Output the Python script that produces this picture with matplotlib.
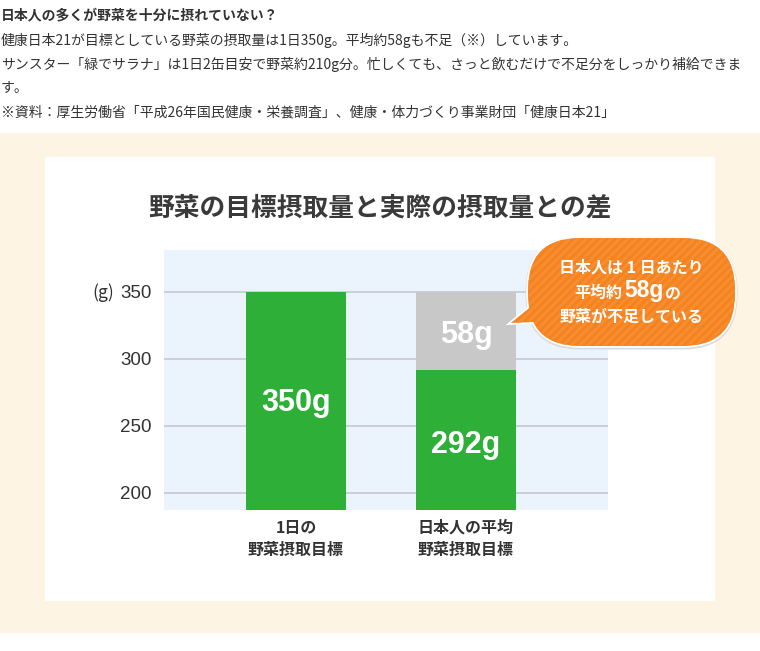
import matplotlib
matplotlib.use("Agg")
import matplotlib.pyplot as plt
from matplotlib.patches import Rectangle, FancyBboxPatch, Polygon

plt.rcParams['font.family'] = ['Noto Sans CJK JP', 'DejaVu Sans']

# ---- data ----
categories = ["1日の\n野菜摂取目標", "日本人の平均\n野菜摂取目標"]
green_values = [350, 292]
gray_values = [0, 58]
green_labels = ["350g", "292g"]
gray_labels = ["", "58g"]
y_ticks = [200, 250, 300, 350]
title = "野菜の目標摂取量と実際の摂取量との差"
header_lines = [
    "日本人の多くが野菜を十分に摂れていない？",
    "健康日本21が目標としている野菜の摂取量は1日350g。平均約58gも不足（※）しています。",
    "サンスター「緑でサラナ」は1日2缶目安で野菜約210g分。忙しくても、さっと飲むだけで不足分をしっかり補給できま",
    "す。",
    "※資料：厚生労働省「平成26年国民健康・栄養調査」、健康・体力づくり事業財団「健康日本21」",
]

W, H = 760, 651
fig = plt.figure(figsize=(W / 100, H / 100), dpi=100)
fig.patch.set_facecolor('white')

# background layer in pixel coords
bg = fig.add_axes([0, 0, 1, 1], zorder=0)
bg.set_xlim(0, W); bg.set_ylim(H, 0); bg.axis('off')
bg.add_patch(Rectangle((0, 133), 760, 500, facecolor='#FDF4E3', edgecolor='none'))
bg.add_patch(Rectangle((45, 157), 670, 444, facecolor='white', edgecolor='none'))

# header text
ys = [15, 40, 64, 88, 113]
for i, (t, y) in enumerate(zip(header_lines, ys)):
    bg.text(1, y, t, fontsize=10.0, color='#333333', va='center', ha='left',
            fontweight='bold' if i == 0 else 'normal')

bg.text(380, 208, title, fontsize=18.5, fontweight='bold', color='#3A3A3A',
        ha='center', va='center')

# chart axes: x 164..608, y 250..510 px
ax = fig.add_axes([164 / W, (H - 510) / H, 444 / W, 260 / H], zorder=1)
ax.set_facecolor('#EBF3FC')
x = [0, 1]
bw = 100 / 170
ax.bar(x, green_values, width=bw, color='#2EB038', zorder=3)
ax.bar(x, gray_values, width=bw, bottom=green_values, color='#C8C8C8', zorder=3)
ax.set_xlim(-132 / 170, 312 / 170)
ax.set_ylim(187.3, 381.3)
ax.set_yticks(y_ticks)
ax.set_yticklabels([str(v) for v in y_ticks], family='Liberation Sans')
ax.yaxis.grid(True, color='#C8CDD5', linewidth=1.3, zorder=1)
ax.set_axisbelow(True)
ax.tick_params(axis='y', length=0, pad=9, labelsize=13.5, labelcolor='#333333')
ax.tick_params(axis='x', length=0, pad=7, labelsize=11.5, labelcolor='#333333')
ax.set_xticks(x)
ax.set_xticklabels(categories, fontweight='bold', linespacing=1.45)
for s in ax.spines.values():
    s.set_visible(False)

# bar value labels
label_y_green = [267, 236]
for xi, lab, yv in zip(x, green_labels, label_y_green):
    ax.text(xi, yv, lab, ha='center', va='center', color='white', fontsize=22,
            fontweight='bold', family='Liberation Sans', zorder=4)
for xi, lab, g, v in zip(x, gray_labels, green_values, gray_values):
    if lab:
        ax.text(xi, g + v / 2 - 3, lab, ha='center', va='center', color='white',
                fontsize=22, fontweight='bold', family='Liberation Sans', zorder=4)

# "(g)" unit label
bg.text(103, 293, "(g)", fontsize=12.5, color='#333333', ha='center', va='center')

# overlay: speech bubble
ov = fig.add_axes([0, 0, 1, 1], zorder=2)
ov.set_xlim(0, W); ov.set_ylim(H, 0); ov.axis('off')
plt.rcParams['hatch.linewidth'] = 2.2
orange = '#F5821F'
stripe = '#F68E30'
bx, by, bwid, bht = 528, 238, 207, 108
tail_pts = [(539, 300), (511, 323), (551, 321)]
body_style = "round,pad=0,rounding_size=52"

# soft shadow + white rim (drawn first, partially covered by fill)
ov.add_patch(FancyBboxPatch((bx, by + 1), bwid, bht, boxstyle=body_style,
                            facecolor='none', edgecolor='#DADADA', linewidth=3.6))
ov.add_patch(FancyBboxPatch((bx, by), bwid, bht, boxstyle=body_style,
                            facecolor='none', edgecolor='white', linewidth=2.6))
ov.add_patch(Polygon(tail_pts, closed=True, facecolor='none',
                     edgecolor='white', linewidth=2.6, joinstyle='miter'))
# fills
ov.add_patch(FancyBboxPatch((bx, by), bwid, bht, boxstyle=body_style,
                            facecolor=orange, edgecolor=stripe, hatch='////',
                            linewidth=0))
ov.add_patch(Polygon(tail_pts, closed=True, facecolor=orange,
                     edgecolor=stripe, hatch='////', linewidth=0))

ov.text(631, 268, "日本人は 1 日あたり", color='white', fontsize=11.5,
        fontweight='bold', ha='center', va='center')
ov.text(622, 293, "平均約", color='white', fontsize=11.5, fontweight='bold',
        ha='right', va='center')
ov.text(644, 291, "58g", color='white', fontsize=16.5, fontweight='bold',
        family='Liberation Sans', ha='center', va='center')
ov.text(665, 293, "の", color='white', fontsize=11.5, fontweight='bold',
        ha='left', va='center')
ov.text(631, 317, "野菜が不足している", color='white', fontsize=11.5,
        fontweight='bold', ha='center', va='center')

fig.savefig('out.png', dpi=100)
